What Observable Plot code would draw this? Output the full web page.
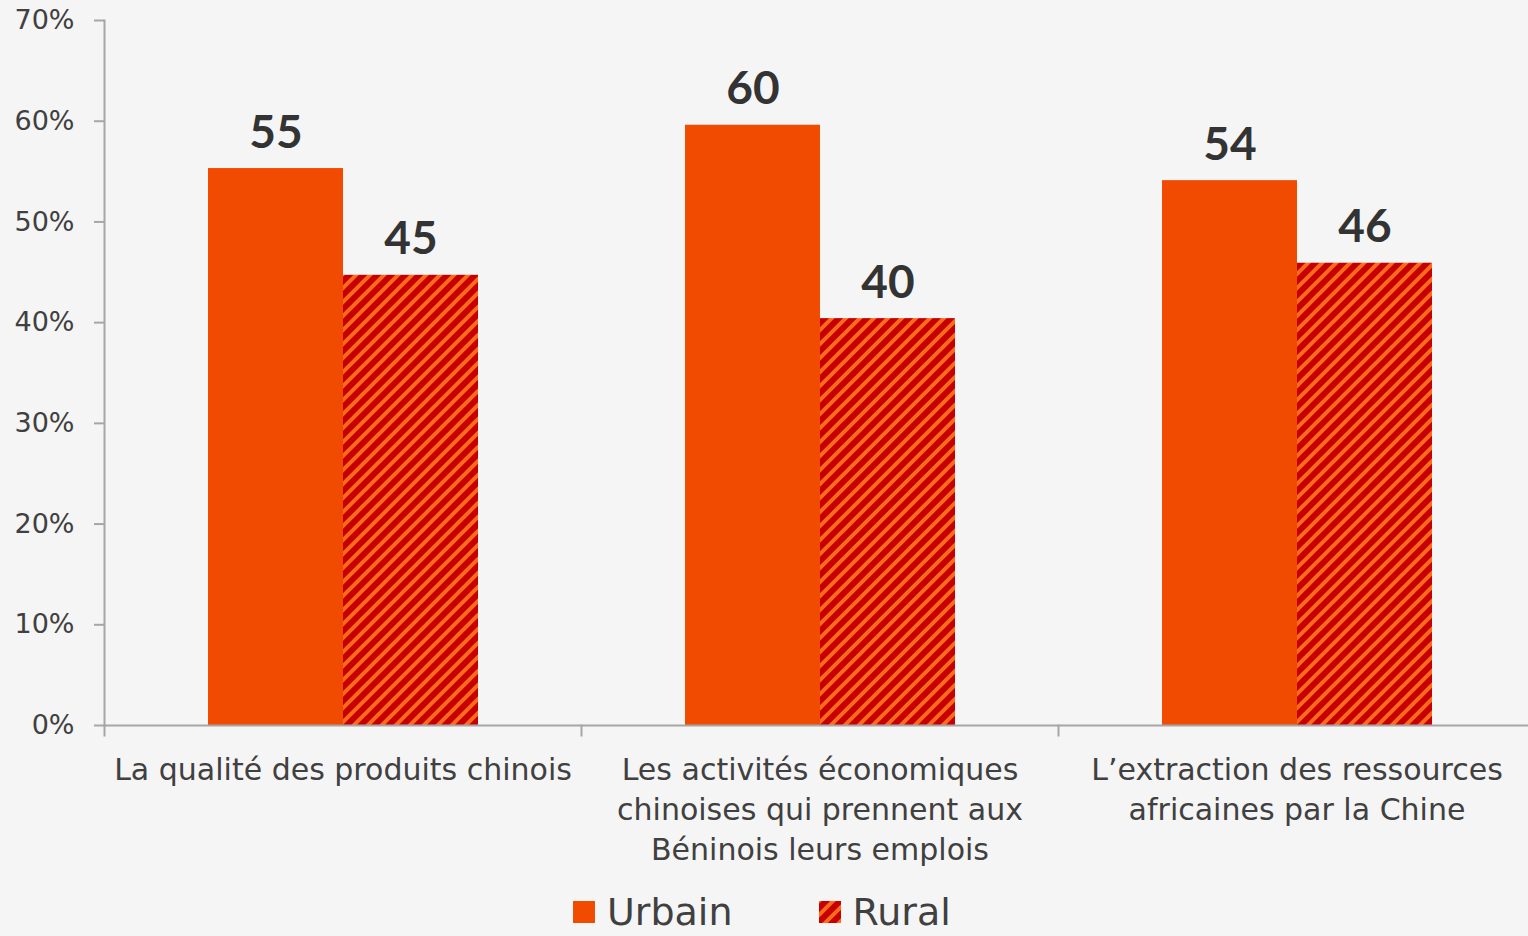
<!DOCTYPE html>
<html>
<head>
<meta charset="utf-8">
<script src="https://cdn.jsdelivr.net/npm/d3@7"></script>
<script src="https://cdn.jsdelivr.net/npm/@observablehq/plot@0.6"></script>
<style>
  html, body { margin: 0; padding: 0; background: #f5f5f5; }
  #chart { position: relative; width: 1528px; height: 936px; overflow: hidden; background: #f5f5f5; }
  #legend { position: absolute; left: 573px; top: 889px; height: 46px; display: flex; align-items: center; gap: 86px;
            font-family: "DejaVu Sans", sans-serif; font-size: 38px; color: #404040; }
  #legend .item { display: flex; align-items: center; gap: 12px; }
  #legend svg { display: block; }
</style>
</head>
<body>
<div id="chart"></div>
<script>
// ---- data ----
const categories = [
  "La qualité des produits chinois",
  "Les activités économiques\nchinoises qui prennent aux\nBéninois leurs emplois",
  "L’extraction des ressources\nafricaines par la Chine"
];
const series = ["Urbain", "Rural"];
const urbainValues = [55.3, 59.6, 54.1];
const ruralValues = [44.7, 40.4, 45.9];
const yTicks = [0, 10, 20, 30, 40, 50, 60, 70];

const urbainColor = "#f04b00";
const hatchBg = "#c60000";
const hatchStripe = "#ff6a1c";

const urbain = categories.map((c, i) => ({category: c, series: "Urbain", value: urbainValues[i]}));
const rural = categories.map((c, i) => ({category: c, series: "Rural", value: ruralValues[i]}));
const all = urbain.concat(rural);

const font = "DejaVu Sans";

const plot = Plot.plot({
  width: 1528,
  height: 890,
  marginTop: 20,
  marginLeft: 103,
  marginRight: -7,
  marginBottom: 165,
  style: {background: "transparent", fontFamily: font, color: "#404040", overflow: "hidden"},
  fx: {domain: categories, padding: 0, label: null},
  x: {domain: series, paddingInner: 0, paddingOuter: 0.755, axis: null},
  y: {domain: [0, 70], axis: null},
  marks: [
    Plot.barY(urbain, {fx: "category", x: "series", y: "value", fill: urbainColor}),
    Plot.barY(rural, {fx: "category", x: "series", y: "value", fill: "url(#hatch)"}),
    Plot.text(all, {fx: "category", x: "series", y: "value", text: d => d3.format(".0f")(d.value),
      dy: -21, lineAnchor: "bottom", fontSize: 46, fontWeight: "bold", fill: "#333333", fontFamily: "Lato"}),
    Plot.ruleY([0], {stroke: "#a6a6a6", strokeWidth: 2}),
    Plot.frame({anchor: "left", facetAnchor: "left", stroke: "#a6a6a6", strokeWidth: 2}),
    Plot.frame({anchor: "left", insetTop: 705, insetBottom: -10, stroke: "#a6a6a6", strokeWidth: 2}),
    Plot.axisY({ticks: yTicks, tickFormat: d => d + "%", tickSize: 10, tickPadding: 20, fontSize: 27,
      stroke: "#a6a6a6", strokeWidth: 2, fill: "#404040", label: null}),
    Plot.axisFx({anchor: "bottom", tickSize: 0, tickPadding: 26, fontSize: 30, lineHeight: 1.33,
      fill: "#404040", label: null})
  ]
});

// hatch pattern definition ("/" diagonal stripes)
const ns = "http://www.w3.org/2000/svg";
function addPattern(svg) {
  const defs = document.createElementNS(ns, "defs");
  const t = 14;
  defs.innerHTML = `<pattern id="hatch" patternUnits="userSpaceOnUse" width="${t}" height="${t}">
      <rect width="${t}" height="${t}" fill="${hatchBg}"></rect>
      <path d="M-2,2 L2,-2 M0,${t} L${t},0 M${t - 2},${t + 2} L${t + 2},${t - 2}" stroke="${hatchStripe}" stroke-width="4" stroke-linecap="square"></path>
    </pattern>`;
  svg.insertBefore(defs, svg.firstChild);
}
addPattern(plot);

const chart = document.getElementById("chart");
chart.appendChild(plot);

// legend
const legend = document.createElement("div");
legend.id = "legend";
const legendFills = {Urbain: urbainColor, Rural: "url(#hatch)"};
series.forEach(s => {
  const item = document.createElement("div");
  item.className = "item";
  item.innerHTML = `<svg width="22" height="22"><rect width="22" height="22" fill="${legendFills[s]}"></rect></svg><span>${s}</span>`;
  legend.appendChild(item);
});
chart.appendChild(legend);
</script>
</body>
</html>
